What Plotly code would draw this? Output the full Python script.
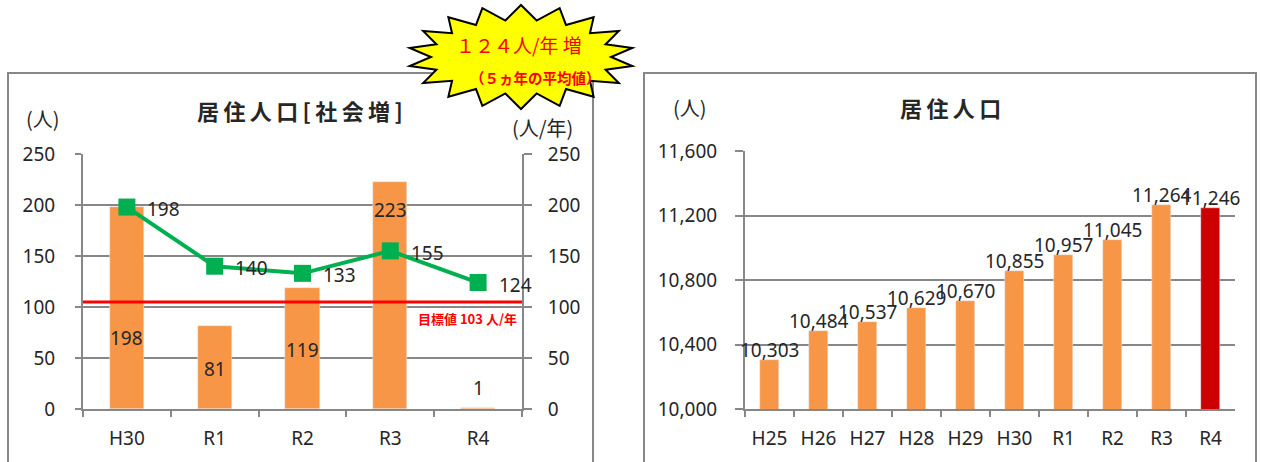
import numpy as np
import plotly.graph_objects as go

W, H = 1261, 462

# ---------------- data ----------------
left_categories = ["H30", "R1", "R2", "R3", "R4"]
social_increase = [198, 81, 119, 223, 1]
five_year_avg = [198, 140, 133, 155, 124]
target_level = 105
target_text = "目標値 103 人/年"
left_ticks = [0, 50, 100, 150, 200, 250]

right_categories = ["H25", "H26", "H27", "H28", "H29", "H30", "R1", "R2", "R3", "R4"]
population = [10303, 10484, 10537, 10629, 10670, 10855, 10957, 11045, 11264, 11246]
right_ticks = [10000, 10400, 10800, 11200, 11600]

# ---------------- style ----------------
ORANGE = "#F79646"
DARKRED = "#CC0000"
GREEN = "#00B050"
GRID = "#878787"
TXT = "#262626"
NUM_FONT = "Noto Sans"
JP_FONT = "Noto Sans CJK JP"
FS = 19


def px(x):
    return x / W


def py(y):
    return 1 - y / H


fig = go.Figure()

fig.add_trace(go.Bar(
    x=left_categories, y=social_increase, marker_color=ORANGE, width=0.39,
    xaxis="x", yaxis="y", hoverinfo="skip"))

fig.add_trace(go.Scatter(
    x=left_categories, y=five_year_avg, mode="lines+markers",
    line=dict(color=GREEN, width=4),
    marker=dict(symbol="square", size=17, color=GREEN),
    xaxis="x", yaxis="y2", cliponaxis=False))

fig.add_trace(go.Bar(
    x=right_categories, y=population,
    marker_color=[ORANGE] * (len(population) - 1) + [DARKRED],
    width=0.4, xaxis="x3", yaxis="y3"))

axis_common = dict(showline=True, linecolor=GRID, linewidth=2, tickcolor=GRID,
                   tickwidth=2, ticks="outside", zeroline=False, automargin=False,
                   tickfont=dict(family=NUM_FONT, size=FS, color=TXT))

fig.update_layout(
    width=W, height=H, autosize=False, margin=dict(l=0, r=0, t=0, b=0, pad=0),
    paper_bgcolor="white", plot_bgcolor="white", showlegend=False,
    bargap=0,
    xaxis=dict(domain=[px(83), px(522)], anchor="y", type="category",
               range=[-0.5, len(left_categories) - 0.5],
               tickson="boundaries", ticklen=6, showgrid=False,
               ticklabelstandoff=11, **axis_common),
    yaxis=dict(domain=[py(409), py(154)], anchor="x", range=[0, 250],
               tickvals=left_ticks, showgrid=True, gridcolor=GRID, gridwidth=2,
               ticklen=6, ticklabelstandoff=16, **axis_common),
    yaxis2=dict(overlaying="y", side="right", anchor="x", range=[0, 250],
                tickvals=left_ticks, showgrid=False, ticklen=8,
                ticklabelstandoff=12, **axis_common),
    xaxis3=dict(domain=[px(745), px(1235)], anchor="y3", type="category",
                range=[-0.5, len(right_categories) - 0.5],
                tickson="boundaries", ticklen=6, showgrid=False,
                ticklabelstandoff=11, **axis_common),
    yaxis3=dict(domain=[py(409), py(151)], anchor="x3", range=[10000, 11600],
                tickvals=right_ticks, tickformat=",", showgrid=True,
                gridcolor=GRID, gridwidth=2, ticklen=8, ticklabelstandoff=14,
                **axis_common),
)

num_font = dict(family=NUM_FONT, size=FS, color=TXT)
annotations = []
# bar value labels in the left chart (hand placed, as in the original)
bar_label_levels = [70, 39, 58, 195, 21]
for cat, val, lvl in zip(left_categories, social_increase, bar_label_levels):
    annotations.append(dict(x=cat, y=lvl, xref="x", yref="y", text=str(val),
                            font=num_font))
# line labels, to the right of each marker
for cat, val in zip(left_categories, five_year_avg):
    annotations.append(dict(x=cat, y=val, xref="x", yref="y2", text=str(val),
                            xshift=37, yshift=-2, font=num_font))
# right chart value labels, just above each bar
for cat, val in zip(right_categories, population):
    annotations.append(dict(x=cat, y=val, xref="x3", yref="y3", text=f"{val:,}",
                            yanchor="bottom", yshift=-5, font=num_font))

annotations.append(dict(x=px(467), y=py(318), text=f"<b>{target_text}</b>",
                        font=dict(family=JP_FONT, size=13, color="#FF0000")))

thin = "\u2009"
annotations += [
    dict(x=px(300), y=py(110), text="<b>" + thin.join("居住人口[社会増]") + "</b>",
         font=dict(family=JP_FONT, size=22, color=TXT)),
    dict(x=px(950), y=py(107), text="<b>" + thin.join("居住人口") + "</b>",
         font=dict(family=JP_FONT, size=22, color=TXT)),
    dict(x=px(43), y=py(118), text="(人)",
         font=dict(family=JP_FONT, size=20, color=TXT)),
    dict(x=px(542), y=py(128), text="(人/年)",
         font=dict(family=JP_FONT, size=20, color=TXT)),
    dict(x=px(690), y=py(108), text="(人)",
         font=dict(family=JP_FONT, size=20, color=TXT)),
    dict(x=px(519), y=py(45), text="１２４人/年 増",
         font=dict(family=JP_FONT, size=19, color="#FF0000")),
    dict(x=px(535), y=py(78), text="<b>（５ヵ年の平均値）</b>",
         font=dict(family=JP_FONT, size=14.5, color="#FF0000")),
]
for a in annotations:
    a.setdefault("xref", "paper")
    a.setdefault("yref", "paper")
    a["showarrow"] = False
    a["xanchor"] = "center"
    a.setdefault("yanchor", "middle")
fig.update_layout(annotations=annotations)

# starburst outline (decoration)
n_pts = 18
cx, cy = 521, 57
ang = np.linspace(0, 2 * np.pi, 2 * n_pts, endpoint=False) - np.pi / 2
rx = np.where(np.arange(2 * n_pts) % 2 == 0, 113, 90)
ry = np.where(np.arange(2 * n_pts) % 2 == 0, 52, 37)
sx = cx + rx * np.cos(ang)
sy = cy + ry * np.sin(ang)
star_path = "M " + " L ".join(f"{px(a):.5f},{py(b):.5f}" for a, b in zip(sx, sy)) + " Z"

shapes = [
    dict(type="line", xref="x domain", yref="y", x0=0, x1=1,
         y0=target_level, y1=target_level, line=dict(color="#FF0000", width=3)),
    dict(type="rect", xref="paper", yref="paper", x0=px(8), x1=px(593),
         y0=py(73), y1=py(470), line=dict(color=GRID, width=2), layer="below"),
    dict(type="rect", xref="paper", yref="paper", x0=px(644), x1=px(1256),
         y0=py(73), y1=py(470), line=dict(color=GRID, width=2), layer="below"),
    dict(type="path", xref="paper", yref="paper", path=star_path,
         fillcolor="#FFFF00", line=dict(color="black", width=2), layer="above"),
]
fig.update_layout(shapes=shapes)

fig.write_html("out.html")
